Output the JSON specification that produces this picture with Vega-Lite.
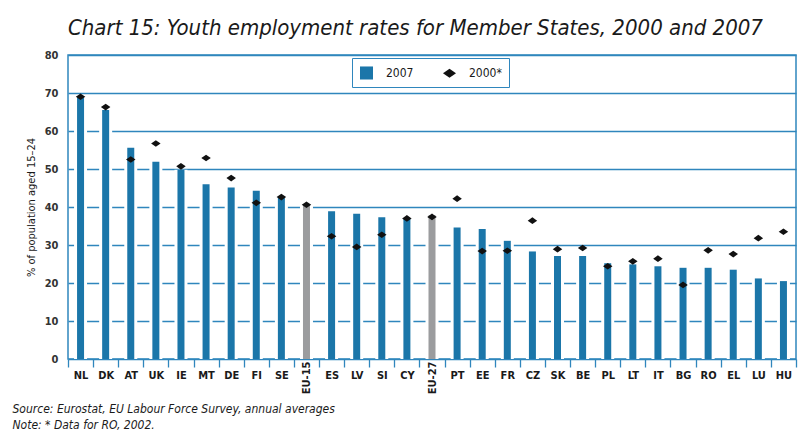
{
  "$schema": "https://vega.github.io/schema/vega-lite/v6.json",
  "width": 728,
  "height": 304,
  "autosize": "none",
  "padding": {"left": 68, "top": 55, "right": 13, "bottom": 77},
  "background": "white",
  "title": {
    "text": "Chart 15: Youth employment rates for Member States, 2000 and 2007",
    "anchor": "start",
    "frame": "group",
    "font": "Liberation Sans Narrow, DejaVu Sans Condensed, sans-serif",
    "fontStyle": "italic",
    "fontWeight": "normal",
    "fontSize": 22,
    "color": "#1a1a1a",
    "offset": 9
  },
  "config": {
    "view": {"stroke": "#2f86bd", "strokeWidth": 1.5},
    "font": "Liberation Sans Narrow, DejaVu Sans Condensed, sans-serif"
  },
  "data": {
    "values": [
      {"country": "NL", "v2007": 68.8, "v2000": 69.0},
      {"country": "DK", "v2007": 65.5, "v2000": 66.3},
      {"country": "AT", "v2007": 55.6, "v2000": 52.5},
      {"country": "UK", "v2007": 51.9, "v2000": 56.7},
      {"country": "IE", "v2007": 49.8, "v2000": 50.7},
      {"country": "MT", "v2007": 46.0, "v2000": 52.9},
      {"country": "DE", "v2007": 45.1, "v2000": 47.6},
      {"country": "FI", "v2007": 44.3, "v2000": 41.1},
      {"country": "SE", "v2007": 42.4, "v2000": 42.6},
      {"country": "EU-15", "v2007": 40.5, "v2000": 40.6},
      {"country": "ES", "v2007": 38.9, "v2000": 32.3},
      {"country": "LV", "v2007": 38.2, "v2000": 29.5},
      {"country": "SI", "v2007": 37.3, "v2000": 32.7},
      {"country": "CY", "v2007": 36.9, "v2000": 37.0},
      {"country": "EU-27", "v2007": 37.8, "v2000": 37.4},
      {"country": "PT", "v2007": 34.6, "v2000": 42.2},
      {"country": "EE", "v2007": 34.2, "v2000": 28.4},
      {"country": "FR", "v2007": 31.1, "v2000": 28.5},
      {"country": "CZ", "v2007": 28.3, "v2000": 36.4},
      {"country": "SK", "v2007": 27.1, "v2000": 28.9},
      {"country": "BE", "v2007": 27.1, "v2000": 29.2},
      {"country": "PL", "v2007": 25.2, "v2000": 24.4},
      {"country": "LT", "v2007": 24.9, "v2000": 25.7},
      {"country": "IT", "v2007": 24.4, "v2000": 26.4},
      {"country": "BG", "v2007": 24.0, "v2000": 19.5},
      {"country": "RO", "v2007": 24.0, "v2000": 28.6},
      {"country": "EL", "v2007": 23.5, "v2000": 27.6},
      {"country": "LU", "v2007": 21.2, "v2000": 31.8},
      {"country": "HU", "v2007": 20.5, "v2000": 33.5}
    ]
  },
  "transform": [{"fold": ["v2007", "v2000"], "as": ["series", "value"]}],
  "encoding": {
    "x": {
      "field": "country",
      "type": "nominal",
      "sort": null,
      "scale": {"paddingInner": 0, "paddingOuter": 0},
      "axis": {
        "title": ["Source: Eurostat, EU Labour Force Survey, annual averages", "Note: * Data for RO, 2002."],
        "titleFontStyle": "italic",
        "titleFontWeight": "normal",
        "titleFontSize": 12,
        "titleColor": "#1a1a1a",
        "titleAnchor": "start",
        "titleAlign": "left",
        "titleBaseline": "top",
        "titleX": -56,
        "titleY": 44,
        "titleLineHeight": 16,
        "tickBand": "extent",
        "tickColor": "#2f86bd",
        "tickSize": 8,
        "tickWidth": 1.3,
        "domain": false,
        "grid": false,
        "labelAngle": {"expr": "datum.value == 'EU-15' || datum.value == 'EU-27' ? 270 : 0"},
        "labelAlign": {"condition": {"test": "datum.value == 'EU-15' || datum.value == 'EU-27'", "value": "right"}, "value": "center"},
        "labelBaseline": {"condition": {"test": "datum.value == 'EU-15' || datum.value == 'EU-27'", "value": "middle"}, "value": "top"},
        "labelPadding": {"condition": {"test": "datum.value == 'EU-15' || datum.value == 'EU-27'", "value": -6}, "value": 2},
        "labelFontSize": 11,
        "labelFontWeight": "bold",
        "labelColor": "#1a1a1a"
      }
    },
    "y": {
      "field": "value",
      "type": "quantitative",
      "scale": {"domain": [0, 80], "nice": false},
      "axis": {
        "values": [0, 10, 20, 30, 40, 50, 60, 70, 80],
        "grid": true,
        "gridColor": "#2f86bd",
        "gridWidth": 1.3,
        "domain": false,
        "ticks": false,
        "labelPadding": 10,
        "labelFontSize": 11,
        "labelFontWeight": "bold",
        "labelColor": "#333333",
        "title": "% of population aged 15–24",
        "titleFontSize": 11,
        "titleFontWeight": "normal",
        "titleColor": "#1a1a1a",
        "titlePadding": 8
      }
    }
  },
  "layer": [
    {
      "transform": [{"filter": "datum.series == 'v2007'"}],
      "mark": {"type": "bar", "size": 13, "color": "white"}
    },
    {
      "transform": [{"filter": "datum.series == 'v2007'"}],
      "mark": {"type": "bar", "size": 7},
      "encoding": {
        "color": {
          "condition": {"test": "datum.country == 'EU-15' || datum.country == 'EU-27'", "value": "#9b9c9e"},
          "field": "series",
          "type": "nominal",
          "scale": {"domain": ["v2007", "v2000"], "range": ["#1b76a9", "#111111"]},
          "legend": {
            "title": null,
            "orient": "none",
            "legendX": 284,
            "legendY": 3,
            "direction": "horizontal",
            "strokeColor": "#2f86bd",
            "padding": 7,
            "labelFontSize": 12,
            "labelColor": "#1a1a1a",
            "symbolSize": 170,
            "columnPadding": 28,
            "labelOffset": 12,
            "labelExpr": "datum.label == 'v2007' ? '2007' : '2000*'"
          }
        }
      }
    },
    {
      "transform": [{"filter": "datum.series == 'v2000'"}],
      "mark": {"type": "point", "filled": true, "size": 90, "opacity": 1},
      "encoding": {
        "color": {"field": "series", "type": "nominal"},
        "shape": {
          "field": "series",
          "type": "nominal",
          "scale": {"domain": ["v2007", "v2000"], "range": ["square", "M-1,0L0,-0.7L1,0L0,0.7Z"]},
          "legend": {
            "title": null,
            "orient": "none",
            "legendX": 284,
            "legendY": 3,
            "direction": "horizontal",
            "strokeColor": "#2f86bd",
            "padding": 7,
            "labelFontSize": 12,
            "labelColor": "#1a1a1a",
            "symbolSize": 170,
            "columnPadding": 28,
            "labelOffset": 12,
            "labelExpr": "datum.label == 'v2007' ? '2007' : '2000*'"
          }
        }
      }
    }
  ]
}
